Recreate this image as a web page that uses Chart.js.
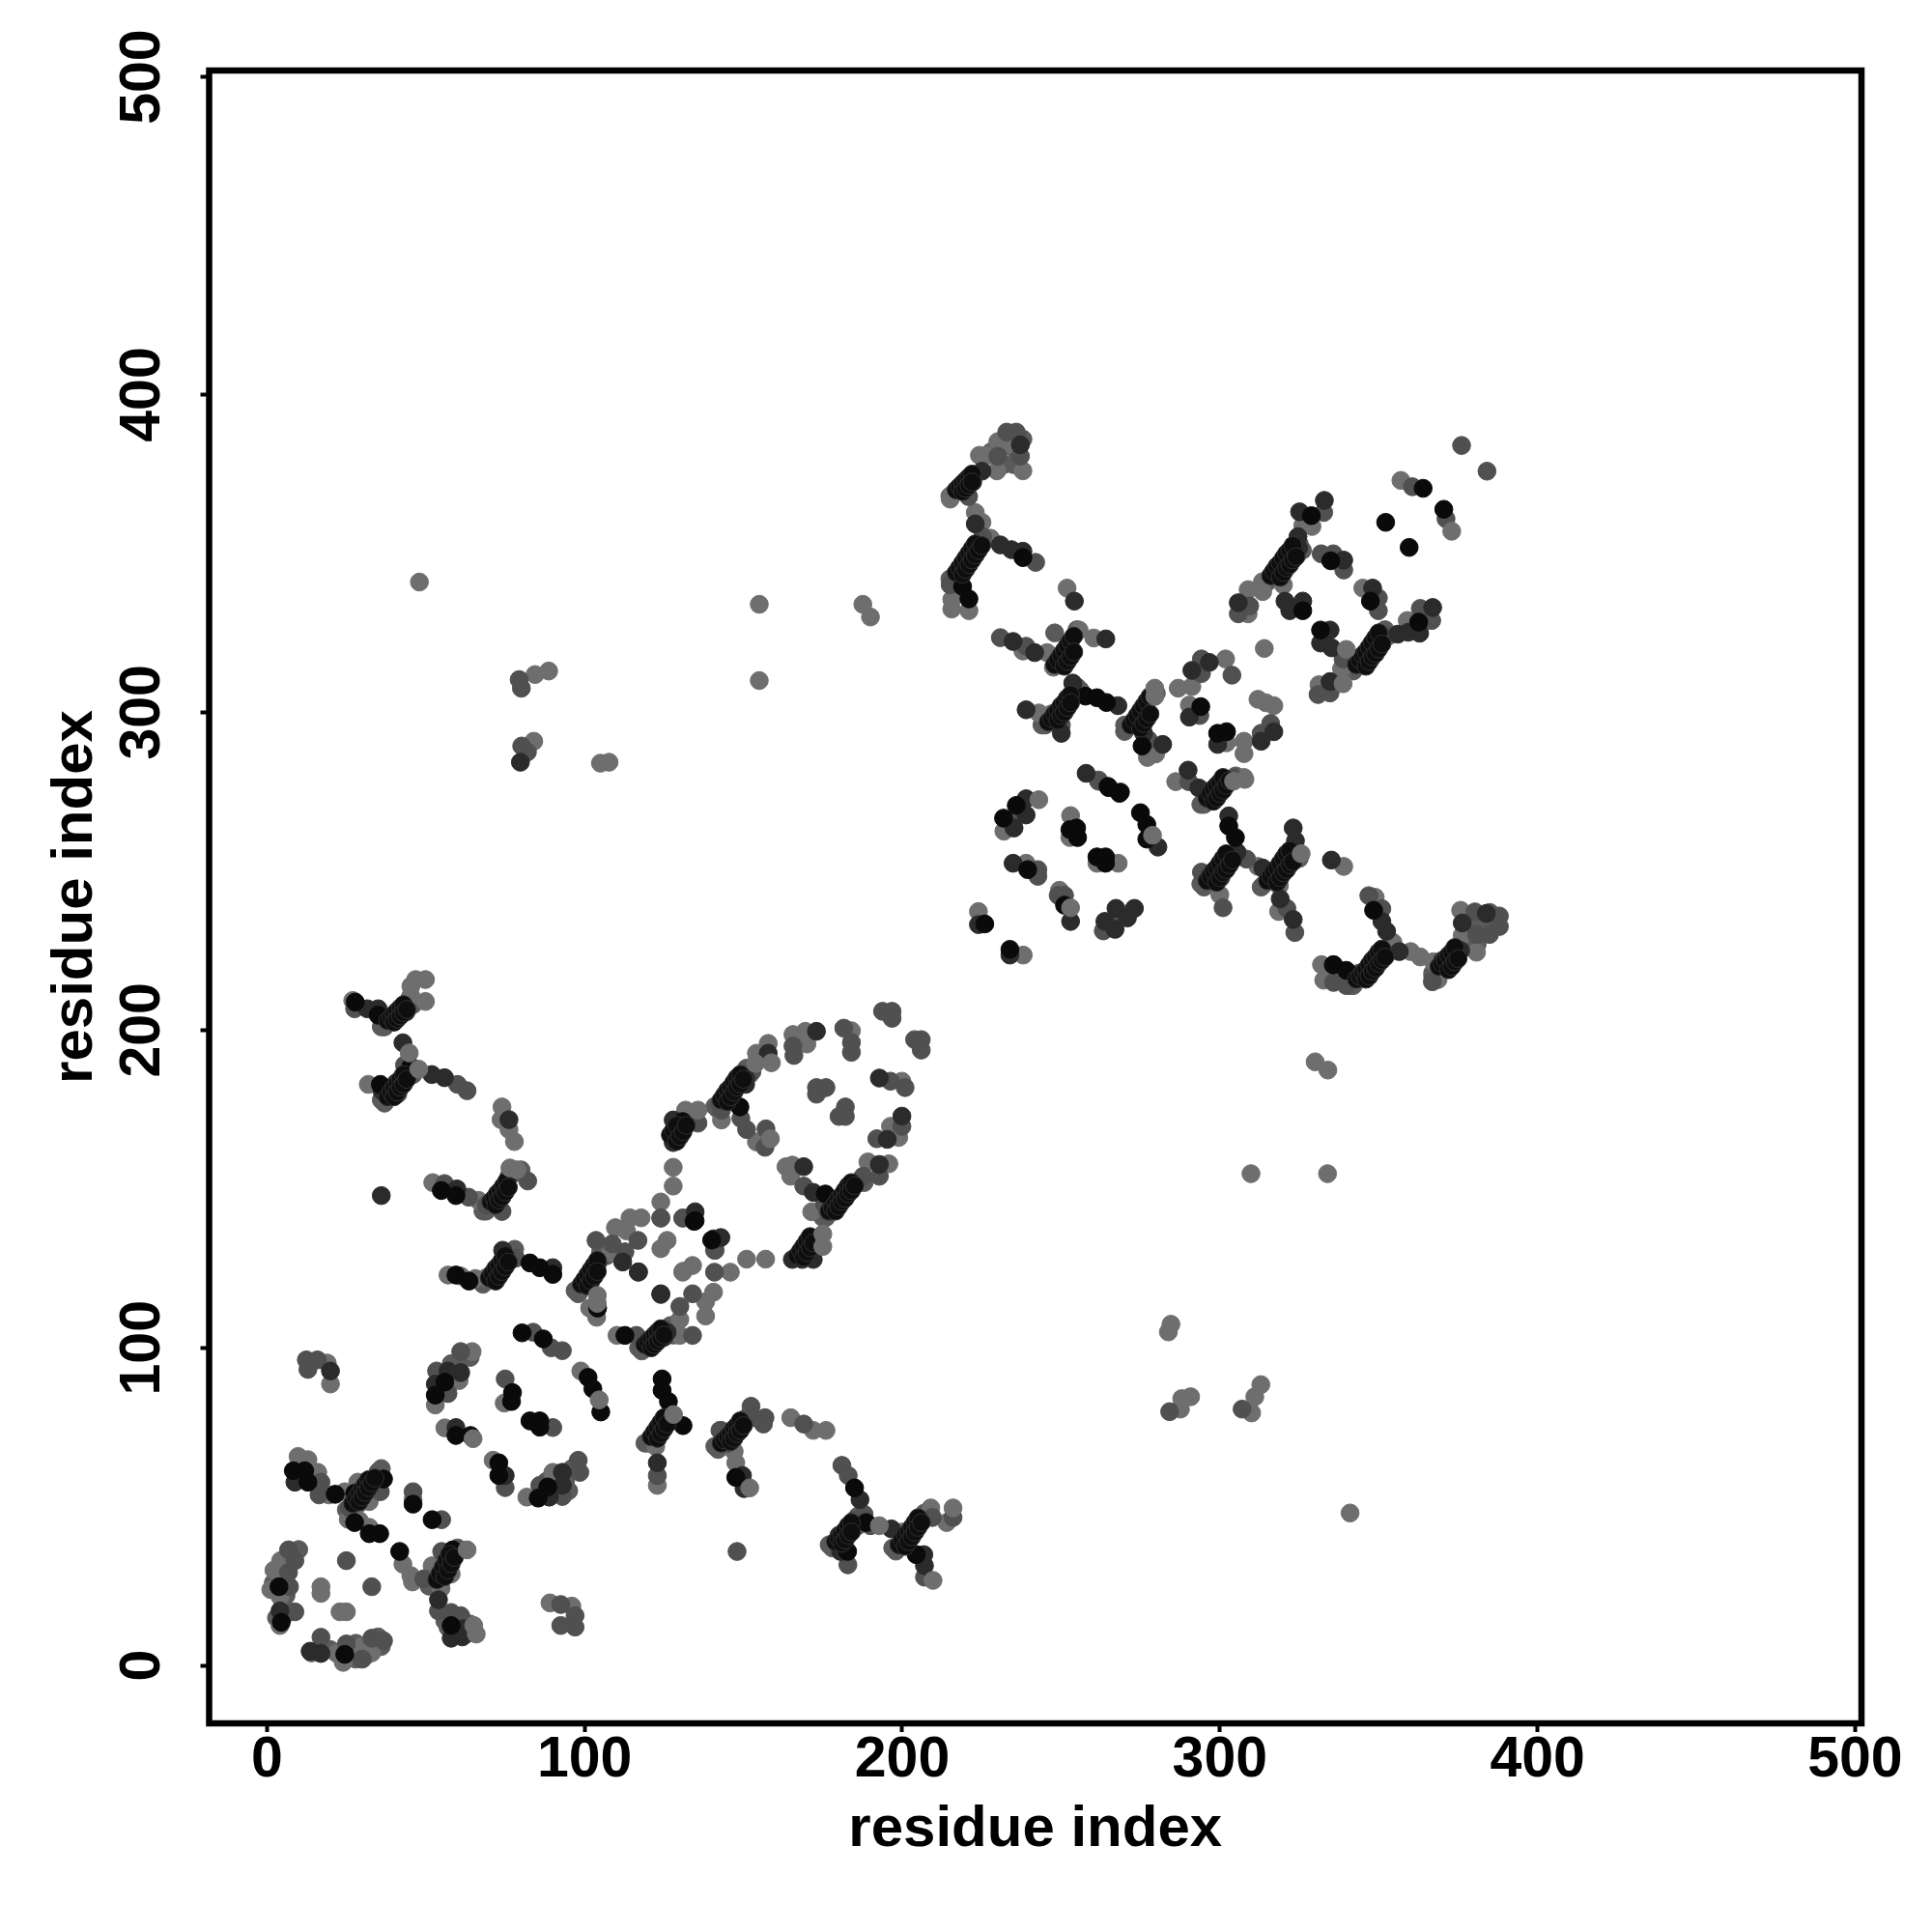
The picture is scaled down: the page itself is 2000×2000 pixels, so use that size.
<!DOCTYPE html>
<html>
<head>
<meta charset="utf-8">
<title>residue contacts</title>
<script src="https://cdn.jsdelivr.net/npm/chart.js@4"></script>
<style>
  html, body { margin: 0; padding: 0; background: #fff; }
</style>
</head>
<body>
<canvas id="map" width="2000" height="2000"></canvas>
<script>
const tickValues = [0, 100, 200, 300, 400, 500];
const axisLabel = 'residue index';

// contact points, grouped by grey level
const lightPts = [
  [17,24.8],[17,22.7],[23,16.9],[25,16.9],[22,3.8],[24,1],[27,4.5],[30,6],[33,4],[1.2,23.9],[2.2,30],[4.3,33],[4.1,21.7],[4.1,12.6],
  [9.8,65.8],[12.9,64.8],[16,60.8],[19.5,53.7],[24.5,54.7],[28.6,57.7],[32.2,51.6],[28.6,50.6],[27,48],[25.6,46],[29.1,45.6],[32.2,43.5],
  [46,52.2],[42.8,31.9],[45.3,28.3],[45.8,26.3],[52,31.4],[58,28.8],[54.8,24.3],[89.1,19.7],[96,18.7],[19,95.2],[20,88.6],
  [57,122.9],[61,122.6],[65.6,121.8],[69.1,122.1],[101.6,112.5],[103.8,109.6],[109.7,137.8],[114.3,140.9],[117.8,140.9],[113.2,136.8],[108.2,130.2],
  [131,140.9],[126,133.8],[124,131.2],[134,125.9],[131,124.1],[140.6,117.5],[138.1,114.5],[138.1,110],[130,108.9],[130,103.9],[110.2,103.9],
  [64.6,98.8],[60.5,89.7],[53,82],[56,74.8],[74.7,82.6],[81.8,53],[90,60.8],[71.2,64.6],[98.8,92.7],[122.4,68.9],[122.9,56.7],[147.1,67.4],[147.6,63.8],
  [151,127.9],[157,127.9],[145.9,123.8],[164.9,78],[172,74],[176,74],[209,49.6],[214,45],[199.9,42],[27,209.3],[45.3,213.8],[45.3,210.8],[49.9,209],
  [31.9,182.9],[74,175.8],[73.7,171.8],[76.2,168.7],[77.9,164.9],[52.2,152],[66.6,146.4],[127.9,156.8],[127.9,150.9],[124,145.9],[130.9,123.8],
  [169.5,199.6],[165.6,198.6],[170,195.6],[184,199.8],[199.9,183.9],[196.3,169.7],[198.9,166.2],[157.8,195.8],[154.1,192.7],[143.1,171.7],[154.1,164.8],
  [131.8,174.8],[165.4,157.5],[163.4,157],[164.9,154],[171.5,142.8],[189.2,158.5],[195.8,157.9],
  [224.3,380.9],[226.8,380.9],[230.1,385.2],[233.4,384.2],[229.8,376],[238,376],[215.6,368.5],[215.1,367.1],[223,362.9],[225.1,359.8],[227.8,354.8],[215.6,335.5],[215.6,332.5],[221,332],
  [251.9,339.1],[238,319.3],[245.6,318.8],[255.7,325.9],[260.3,323.4],[247.6,314.2],[246.9,299.5],[243,299.8],[279.8,286.9],[277.2,285.8],
  [286.9,307.6],[291.2,308.1],[301.8,316.8],[290.4,302.3],[252.8,260.6],[302.1,290.4],[314,320.1],[312,304.1],[317,302.1],[314.5,303],[307.6,290.9],[307.6,287],[286.1,278.2],[307.6,279.5],
  [357,373],[326.1,358.8],[329,358.5],[313.4,341.1],[320,340.1],[308.9,338.6],[308.9,331],[313.5,338],[331.2,308.7],[338.3,313.7],[359,328.9],[345,339.1],
  [253,267.5],[232,262.6],[239,252.5],[261.3,252.5],[268,252.5],[249.5,244],[224,237.3],[238.1,223.6],[300,242.6],[318.5,237.3],[312,251.5],[318.7,245.4],[339,251.5],
  [332,220.6],[332.7,215.7],[348.9,241.8],[354.5,227.6],[360.1,224.7],[363.1,223],[367.2,221.5],[368.7,215.9],[375.8,237.7],[376.3,229.8],[380.8,224.5],
  [48,341],[155,334],[155,310],[190,330],[187.6,334],[88.7,313],[84.4,311.9],[84,290.9],[107.7,284.3],[105,284],[334,187.4],[330,190],[309.8,154.8],[333.9,154.8],[284.6,107.4],[283.8,105],[290.8,84.6],[288,84],[287.6,80.7],[312.9,88.4],[311,84.6],[310,79.5],[341,48]
];
const midPts = [
  [25,33],[33,24.8],[6.8,36.4],[8.8,33],[6.8,29.3],[7.1,24.8],[8.8,16.9],[17,8.9],[25,6.8],[30,2],[33,8.6],[36.7,7.8],
  [17,57.7],[16.4,53.7],[35.7,54.7],[26,49.6],[46,54.7],[55,45.9],[49.4,27.3],[55,35.9],[54,17.2],[58,16.7],[61,15.7],[92.5,19.2],[92.5,12.6],[97,15.7],[97,12.1],
  [12.4,96.2],[15.9,96.2],[12.9,93.2],[78.3,128.2],[103.6,133.8],[116.8,133.8],[112.7,130.2],[108.7,132.7],[124,140.9],[140.6,134.3],[141.1,130.7],[140.9,123.8],
  [134,117],[130,113],[134,103.9],[116.3,103.9],[61,98.8],[53.4,92.7],[57,85.6],[75,90.2],[90,74.9],[83.8,104.9],[93,99.1],[89.5,100],[75,56],[98,64.6],[98.5,60.8],[85.9,56.7],[93,53.2],
  [122.9,59.8],[143,74],[142.6,74],[145.1,69.9],[152.4,81.6],[153.2,78],[156.8,78],[156.3,76],[169,76],[181,63],[183,59.8],[188,47.6],[184.7,45.6],[182.9,31.7],[190,44],[209.5,46.6],[216,46.6],[207,27.8],
  [148,35.9],[27.6,206.7],[40.2,202.7],[43.3,189],[60,182.9],[63,180.9],[41.2,179.9],[76.2,154],[82.1,152.5],[74,142.9],[69.1,144.9],[55.9,151.7],[63.5,147.4],
  [165.6,195],[165.9,192],[193.8,205.9],[196.8,205.9],[196.8,203.7],[203.9,197],[206,197],[206,193.7],[181.6,200.6],[184,196.1],[184,193],[196.3,183.9],[200.9,181.9],
  [173,181.9],[176,181.9],[173,179.8],[182.1,175.8],[180.1,172.8],[182.1,172.8],[199.9,169.7],[192,165.8],[152.7,186.9],[142.6,176.8],[143.1,174.8],[149.2,172.2],[151,168.7],[157.1,168.9],[156.8,163.1],
  [135.7,170.7],[124,140.8],[130.9,140.8],[140.9,130.7],[169,150.9],[176.6,142.8],[175.5,145.4],[187.7,154],[192.8,154],
  [232.9,388.2],[235.9,388.2],[237.2,380.6],[230.1,380.6],[220.9,367.9],[225.3,355.3],[242,347.2],[215.1,340.1],[239,320.8],[250.1,296],[277.5,291.4],[294.2,316.8],[294.2,312.2],[303.8,311.7],
  [316,296.5],[313,293.4],[293.7,299],[290.2,278.2],[304.4,279.3],[230.9,323.5],[261.8,278.7],[255.2,306.1],
  [376.1,384],[384.1,375.9],[360.6,371],[371.2,360.9],[332.7,362.9],[316.5,343.6],[309.4,333.5],[305.8,331],[331.9,349.9],[335.7,349.9],[339,344.8],[349.9,336],[349.9,332],[363.1,332.7],[366.7,328.9],
  [352,324.4],[338.8,316.8],[334.7,306.1],[330.9,305.6],[235.4,266.7],[242.7,250.5],[242.7,248.4],[261.8,278.3],[249.1,242.4],[251.1,242.4],[267.3,234.8],[263.3,231.2],[294.2,249.7],[300.3,247.9],[301,238.5],
  [308.4,253.8],[321.1,238.3],[323.6,230.7],[335.8,215],[339.8,214],[346.9,242.3],[351,238.2],[380.3,237.2],[388,235.9],[388,232.6],[384.9,230.1],[380.8,230.1],[366.9,215.2],[343.8,217.9],
  [79.4,310.3],[80.1,307.6],[80.2,289.4],[82,287.5],[284.2,79.9],[307,80.7]
];
const darkPts = [
  [13.6,4.5],[17,3.8],[4.1,17.2],[8.8,57.7],[54,20.7],[62,11.6],[58,8.6],[61.5,9],[20,92.7],[74.2,130.7],[90,125.2],[104.1,126.7],[112,127],[117,123.9],[124,117],[125,103.3],[126,104.9],
  [61,92.2],[57,92.7],[53,88.6],[59.5,74.9],[75,59.8],[93,60.8],[93,56.7],[88.9,53],[122.9,63.8],[149.7,76],[149.7,59.8],[150.2,55.7],[186.7,52.2],[182.6,41.5],[180.1,41],[180.6,35.9],[196.6,43],[206.8,34.9],[207,31.4],
  [31.6,206.7],[35,206.7],[43.8,205.7],[42.8,196],[51.9,186],[55.9,185],[36.2,180.9],[40.7,183.4],[76.2,171.8],[74.7,150.5],[59.8,150],[36,147.9],
  [173,199.6],[157.8,192.7],[192.8,184.9],[199.9,172.9],[195.3,165.6],[150.7,184.9],[150.7,182.9],[127.9,171.7],[127.9,168.2],[127.9,164.6],[134.8,142.8],[140.9,134.2],[142.9,134.7],[116.9,123.8],[124,116.8],[169,157],[172,148.9],[192.8,157.7],[184.7,150.9],[165.4,127.8],[168.5,127.8],[172,127.8],
  [237.2,384.2],[225.1,375.9],[222.2,372.5],[223,359.3],[230.9,352.7],[234.4,351.2],[238,350.7],[254.2,335],[234.9,322.3],[241.7,318.8],[264.1,323.1],[253.7,309.2],[267.9,302.1],[239,300.8],[250.1,293.4],[276,293.4],[282,289.9],
  [296.7,315.7],[291.2,313.2],[290.4,298.5],[299.3,289.9],[317,293.9],[313,290.9],[290,281.8],[293.4,276.2],[257.9,280.8],
  [332.9,366.7],[325.1,363.1],[324.6,355.3],[324.8,351.7],[305.8,334.5],[320.5,335],[326.1,335],[322,332],[339,347.9],[348.1,339.1],[367,333],[359.3,325.2],[362.9,324.9],[356,324.6],[343.8,316.8],[334.7,325.9],[331.7,321.8],[335.2,320.3],[334.7,309.7],
  [239,272.8],[239,267.7],[235.2,263.6],[234.9,252.5],[280.5,257.6],[253,234.2],[273.1,238.3],[267.3,238.3],[270.9,235.3],[263.8,234.2],[267,231.7],[224,233.2],[233.9,223.6],
  [302.8,267.4],[305.4,256],[313.5,251],[323.1,263.6],[323.8,259.6],[319,241.3],[323.1,234.8],[335.1,253.5],[335.8,220.6],[351,234.2],[352.5,231.1],[356.5,224.7],[370.2,222],[375.8,225],[383.9,236.7],[376.3,233.7],
  [79.8,284.3]
];
const blackPts = [
  [3.8,24.8],[4.5,13.6],[24.5,3.5],[8.3,61.3],[11.9,61.3],[12.9,57.7],[21.5,53.9],[27.6,54.2],[36.7,58.7],[27.6,45],[32.2,41.5],[35.5,41.5],[46,50.8],[52,45.9],[41.8,35.9],[58.5,36.4],[58,12.6],
  [59.5,122.9],[63.6,121],[82.8,126.7],[85.9,125.2],[90,123.1],[104.1,112.5],[112.7,103.9],[134.5,139.8],
  [56,89.2],[53,85.1],[59.5,72.4],[64.1,72.4],[77.3,85.9],[77,83.1],[82.8,77],[85.9,77],[85.9,75],[80.3,104.7],[87,102.8],[101.1,90.7],[102.6,87.1],[105.1,79.8],[73,63.8],[73,59.8],[88.4,56.2],[85.4,52.7],
  [124.4,90.2],[124.4,86.6],[126.4,83.1],[131,75.5],[147.6,59.2],[185,55.9],[188.7,45],[182.8,35.9],[204.4,34.9],
  [27.8,208.8],[35,204.7],[45.3,188.5],[35.7,182.9],[54.9,149.5],[59.5,147.9],
  [148.9,175.8],[130.9,171.2],[134.8,140],[140,133.9],[175.8,148.4],
  [238,348.7],[219,339.6],[221,335.7],[257.7,305.1],[261.3,304.6],[264.3,303.1],[275.5,289.4],
  [294,301.8],[299.3,293.4],[302.1,293.9],[264.8,276.7],[268.7,274.9],[265,276.3],[268.4,274.5],
  [364,370.5],[370.5,363.9],[352.2,359.8],[359.6,351.9],[328.8,361.9],[326.1,332],[334.9,347.7],[347.4,335],[362.6,328.4],[331.7,325.9],
  [235.9,270.7],[231.9,266.7],[254.9,263.6],[252.8,263.1],[255.2,260.6],[239.5,250.5],[261.3,254.5],[264,254.5],[264,252.5],[275,268.4],[277,264.7],[277,260.1],[251.1,239.3],[226,233.4],[233.9,225.4],
  [302.8,264.2],[304.9,260.6],[335.7,220.5],[339.8,218.8],[348.4,237.7]
];
// the dense dark bands where the contacts run side by side
const bandPts = [
  [70.5,146],[71.5,147],[72.5,148.5],[73.5,149.5],[74.5,151],[75.5,152.5],[72,145],[73,146.5],[74,147.5],[75,149],[76,150.5],
  [70,122],[71,123.5],[72,125],[73,126],[74,127.5],[75,129],[72,121],[73,122.5],[74,124],[75,125.5],[76,127],
  [99,120],[100,121.5],[101,123],[102,124.5],[103,126],[104,127.5],[101,119.5],[102,121],[103,122.5],[104,124],
  [119,101],[120,102],[121,103],[122,104],[123,105],[124,106],[121,100],[122,101],[123,102],[124,103],[125,104],
  [121,72],[122,73.5],[123,75],[124,76.5],[125,78],[123,71.5],[124,73],[125,74.5],[126,76],
  [27,51],[28,52.5],[29,54],[30,55.5],[31,57],[32,58.5],[29,51.5],[30,53],[31,54.5],[32,56],[33,57.5],[34,59],
  [53.5,27],[54.5,29],[55.5,31],[56.5,33],[57.5,35],[56,28],[57,30],[58,32],[59,34],
  [143,70],[144,71],[145,72],[146,73],[147,74.5],[148,75.5],[149,77],[146,70.5],[147,71.5],[148,73],[149,74],[150,75.5],
  [179,39],[180,40],[181,41],[182,42.5],[183,44],[184,45],[181,38.5],[182,39.5],[183,41],[184,42],
  [199,38],[200,39.5],[201,41],[202,42],[203,43.5],[204,45],[205,46.5],[201,37.5],[202,39],[203,40.5],[204,42],[205,43.5],[206,45],
  [38,203],[39,204],[40,205],[41,206],[42,207],[43,208],[40,202.5],[41,203.5],[42,204.5],[43,205.5],[44,206.5],
  [38,179],[39,180.5],[40,182],[41,183],[42,184.5],[43,186],[40,179],[41,180.5],[42,182],[43,183],[44,184.5],
  [143,178],[144,179.5],[145,181],[146,182],[147,183.5],[148,185],[149,186],[145,177.5],[146,179],[147,180.5],[148,182],[149,183],[150,184.5],
  [177,143],[178,144],[179,145.5],[180,147],[181,148],[182,149.5],[183,151],[184,152],[179,143],[180,144.5],[181,146],[182,147],[183,148.5],[184,149.5],[185,151],
  [127,167],[128,168.5],[129,170],[129,165],[130,166.5],[131,168],[132,170],
  [167,129],[168,130.5],[169,132],[170,133.5],[171,135],[169,128.5],[170,130],[171,131.5],[172,133],
  [217,344],[218,345.5],[219,347],[220,348.5],[221,350],[222,351.5],[223,353],[219,343.5],[220,345],[221,346.5],[222,348],[223,349.5],[224,351],[225,352.5],
  [217,370],[218,371],[219,372],[220,373],[221,374],[222,375],[219,369.5],[220,370.5],[221,371.5],[222,372.5],
  [246,297],[247,298],[248,299.5],[249,300.5],[250,302],[251,303],[252,304.5],[253,305.5],[249,297.5],[250,299],[251,300],[252,301.5],[253,303],
  [248,315],[249,316.5],[250,318],[251,319.5],[252,321],[253,322.5],[254,324],[251,314.5],[252,316],[253,317.5],[254,319],
  [272,296],[273,297.5],[274,299],[275,300.5],[276,302],[277,303.5],[278,305],[275,295],[276,296.5],[277,298],[278,299.5],
  [296,273],[297,274.5],[298,276],[299,277],[300,278],[301,279.5],[298,272],[299,273],[300,274.5],[301,275.5],[302,277],[303,278.5],
  [296,247],[297,248.5],[298,250],[299,251],[300,252.5],[301,254],[302,255.5],[299,246.5],[300,248],[301,249.5],[302,250.5],[303,252],[304,253.5],
  [315,247],[316,248.5],[317,250],[318,251],[319,252.5],[320,254],[321,255.5],[322,256.5],[318,246.5],[319,248],[320,249.5],[321,250.5],[322,252],[323,253],
  [343,216],[344,217],[345,218],[346,219],[347,220.5],[348,222],[349,223],[350,224.5],[351,225.5],[346,216],[347,217],[348,218.5],[349,219.5],[350,221],[351,222],[352,223],
  [369,220],[370,221],[371,222],[372,223.5],[373,224.5],[374,226],[372,219],[373,220],[374,221.5],[375,222.5],
  [316,343],[317,344.5],[318,346],[319,347],[320,348.5],[321,350],[322,351],[323,352.5],[319,342.5],[320,344],[321,345.5],[322,346.5],[323,348],[324,349],
  [343,315],[344,316.5],[345,318],[346,319],[347,320.5],[348,322],[349,323.5],[350,325],[346,314.5],[347,316],[348,317.5],[349,318.5],[350,320],[351,321.5]
];
// lighter points around the band ends and inside the busy clusters
const fringePts = [
  [3,27],[5,28],[9,36],[10,36.5],[5,31],[2,26],[3,15],[5,15],[5,19],[6,22],[20,5],[14,4],[28,2],[31,3],[36,6],[35,9],[32,5],[28,7],
  [57,12],[60,11],[63,10],[60,14],[56,14],[64,13],[62,14],[55,90],[58,95],[60,95],[62,97],[64,97],[55,87],[57,88],[94,58],[96,62],[92,55],[95,55],[90,54],[88,58],
  [232,378],[235,378],[236,382],[234,386],[228,382],[231,383],[238,386],[378,236],[382,234],[386,234],[379,232],[383,232],[385,237],[378,227],[381,227],
  [68,143],[69,143],[78,155],[80,156],[67,121],[68,120],[78,131],[97,118],[98,117],[105,130],[107,129],[117,100],[118,99],[127,107],[128,104],[119,70],[120,70],[127,79],
  [25,49],[26,48],[35,61],[36,62],[51,25],[52,25],[60,37],[141,69],[142,68],[151,78],[177,38],[178,37],[186,47],[186,44],[197,37],[198,36],[207,48],[208,47],
  [36,201],[37,201],[45,210],[46,208],[36,178],[37,177],[45,188],[46,186],[141,176],[142,175],[151,188],[152,186],[175,141],[176,141],[187,153],[188,152],
  [215,342],[216,342],[226,355],[215,368],[248,325],[255,326],[244,296],[245,296],[255,308],[256,307],[270,294],[270,296],[280,306],[294,271],[295,271],[305,280],
  [294,246],[295,245],[305,256],[306,255],[313,245],[314,246],[324,256],[325,254],[341,214],[342,214],[353,226],[354,225],[367,218],[367,217],[377,227],
  [314,341],[315,341],[325,353],[326,351],[341,313],[342,313],[352,326],[353,324]
];
// these sit on top of the darker stripes
const capPts = [
  [104.6,83.6],[64.9,71.4],[128,79],[175,135.8],[175,131.9],[152,55.9],[216,49.6],[209.7,26.8],[192.8,44],[65.1,12.6],[65.9,9.9],[63,36.4],
  [279.5,307.6],[279.5,305],[325.6,255.5],[253,238.5],[243,272.5],[278.8,261.3],[339.8,319.8],[338.8,309],[373,357],[158.5,165.8],[135.7,174.8],[158.8,189.7],[153.8,189.5],
  [49.9,215.9],[46.8,215.9],[76.5,156.6],[78.7,156],[44.8,192.8],[47.8,187.7],[304.3,278.3],[307.9,278.9],[104,116.5],[104,114]
];

const seriesPts = [capPts, bandPts, blackPts, darkPts, midPts, lightPts, fringePts];
const greyLevels = ['#6e6e6e', '#0e0e0e', '#0a0a0a', '#2b2b2b', '#505050', '#6e6e6e', '#5a5a5a'];
const edgeGreys = ['#6e6e6e', '#303030', '#0a0a0a', '#2b2b2b', '#505050', '#6e6e6e', '#5a5a5a'];

// frame, ticks stick out of it
const framePlugin = {
    id: 'frame',
    afterDatasetsDraw(chart) {
        const a = chart.chartArea;
        const ctx = chart.ctx;
        ctx.save();
        ctx.strokeStyle = '#000';
        ctx.lineWidth = 6.5;
        ctx.lineJoin = 'miter';
        ctx.strokeRect(a.left, a.top, a.right - a.left, a.bottom - a.top);
        ctx.restore();
    }
};

const tickFont = { family: 'Liberation Sans', size: 59, weight: 'bold' };
const titleFont = { family: 'Liberation Sans', size: 60, weight: 'bold' };

const commonAxis = {
    type: 'linear',
    min: -18.2,
    max: 502,
    border: { display: false },
    grid: { drawOnChartArea: false, drawTicks: true, tickLength: 9, tickWidth: 4, tickColor: '#000' },
    afterBuildTicks(scale) {
        scale.ticks = tickValues.map(v => ({ value: v }));
    }
};

new Chart(document.getElementById('map'), {
    type: 'scatter',
    data: {
        datasets: seriesPts.map((pts, i) => ({
            data: pts.map(p => ({ x: p[0], y: p[1] })),
            backgroundColor: greyLevels[i],
            borderColor: edgeGreys[i],
            borderWidth: 1,
            pointRadius: 9.3,
            pointHoverRadius: 9.3
        }))
    },
    options: {
        responsive: false,
        animation: false,
        layout: { padding: { top: 73, right: 73, left: 0, bottom: 0 } },
        plugins: { legend: { display: false }, tooltip: { enabled: false } },
        scales: {
            x: {
                ...commonAxis,
                ticks: { font: tickFont, color: '#000', padding: -6, autoSkip: false, maxRotation: 0, minRotation: 0 },
                title: { display: true, text: axisLabel, color: '#000', font: titleFont, padding: { top: 0, bottom: 69.3 } },
                afterFit(scale) { scale.height = 216; }
            },
            y: {
                ...commonAxis,
                ticks: { font: tickFont, color: '#000', padding: 10, autoSkip: false, minRotation: 90, maxRotation: 90, crossAlign: 'center' },
                title: { display: true, text: axisLabel, color: '#000', font: titleFont, padding: { top: 42.8, bottom: 0 } },
                afterFit(scale) { scale.width = 216.5; }
            }
        }
    },
    plugins: [framePlugin]
});
</script>
</body>
</html>
